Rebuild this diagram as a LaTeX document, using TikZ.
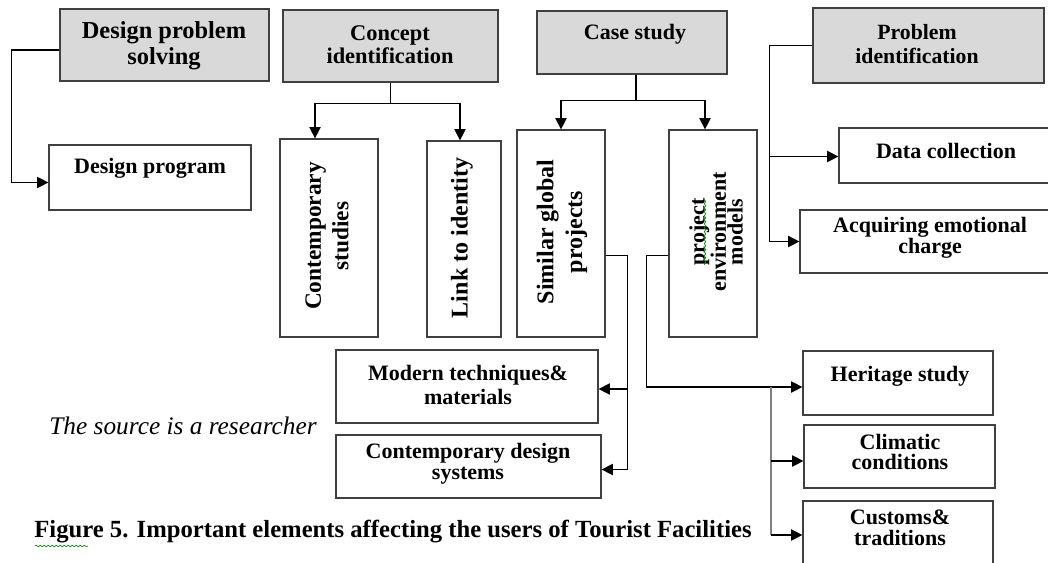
\documentclass[tikz,border=0pt]{standalone}
\usepackage{fontspec}
\setmainfont{Liberation Serif}
\usetikzlibrary{arrows.meta,calc,decorations.pathmorphing}
\newcommand\mkbox[6]{\node[#6,minimum width={(#4-#2)*0.75pt},minimum height={(#5-#3)*0.75pt}] (#1) at ({(#2+#4)/2},{(#3+#5)/2}) {};}
\begin{document}
\begin{tikzpicture}[x=0.75pt,y=-0.75pt,
  box/.style={draw=black!75,line width=0.9pt,fill=white,inner sep=0pt},
  head/.style={box,fill=black!15},
  conn/.style={draw=black,line width=0.8pt},
  grayconn/.style={draw=black!50,line width=1pt},
  arr/.style={conn,-{Triangle[length=8.5pt,width=8.5pt]}},
  lbl/.style={font=\bfseries\fontsize{16.5}{15.5}\selectfont,align=center,inner sep=0pt},
  vlbl/.style={font=\bfseries\fontsize{17.5}{20.5}\selectfont,align=center,inner sep=0pt,rotate=90},
  squig/.style={draw=green!55!black,line width=0.5pt,decorate,decoration={snake,amplitude=0.6pt,segment length=3pt}},
]
\useasboundingbox (0,0) rectangle (1048,563);
% boxes
\mkbox{dps}{60}{9}{269}{81}{head}
\mkbox{ci}{283}{10}{498}{82}{head}
\mkbox{case}{537}{11}{727}{74}{head}
\mkbox{pi}{813}{8}{1044}{83}{head}
\mkbox{dp}{49}{145}{251}{210}{box}
\mkbox{cs}{280}{139}{378}{337}{box}
\mkbox{lk}{427}{141}{501}{337}{box}
\mkbox{sg}{517}{130}{605}{337}{box}
\mkbox{pe}{669}{130}{757}{337}{box}
\mkbox{dc}{839}{128}{1054}{183}{box}
\mkbox{ac}{800}{210}{1054}{273}{box}
\mkbox{mt}{336}{350}{598}{423}{box}
\mkbox{cds}{336}{435}{601}{498}{box}
\mkbox{hs}{803}{351}{993}{415}{box}
\mkbox{cc}{804}{425}{995}{488}{box}
\mkbox{ct}{803}{501}{993}{572}{box}
% texts
\node[lbl,font=\bfseries\fontsize{18.3}{19.5}\selectfont] (tdps) at (164,46) {Design problem\\solving};
\node[lbl,font=\bfseries\fontsize{16.8}{17.5}\selectfont] (tci) at (390,45) {Concept\\identification};
\node[lbl] (tcase) at (635,34) {Case study};
\node[lbl,font=\bfseries\fontsize{16.3}{18.5}\selectfont] (tpi) at (917,44) {Problem\\identification};
\node[lbl] (tdp) at (150,168) {Design program};
\node[lbl] (tdc) at (946,151) {Data collection};
\node[lbl] (tac) at (930,238) {Acquiring emotional\\charge};
\node[lbl,font=\bfseries\fontsize{16.5}{18.5}\selectfont] (tmt) at (468,385) {Modern techniques\&\\materials};
\node[lbl] (tcds) at (468,464) {Contemporary design\\systems};
\node[lbl] (ths) at (900,376) {Heritage study};
\node[lbl] (tcc) at (900,452) {Climatic\\conditions};
\node[lbl] (tct) at (900,528) {Customs\&\\traditions};
\node[vlbl] (tcs) at (327,236) {Contemporary\\studies};
\node[vlbl,font=\bfseries\fontsize{18}{20.5}\selectfont] (tlk) at (462,238) {Link to identity};
\node[vlbl,font=\bfseries\fontsize{18}{21.5}\selectfont] (tsg) at (562,232) {Similar global\\projects};
\node[vlbl,font=\bfseries\fontsize{16.5}{12.5}\selectfont] (tpe) at (716,232) {project\\environment\\models};
\node[font=\itshape\fontsize{19}{22}\selectfont,inner sep=0pt] (src) at (183,426) {The source is a researcher};
\node[font=\bfseries\fontsize{18.5}{22}\selectfont,inner sep=0pt] (cap) at (393,532) {Figure 5. Important elements affecting the users of Tourist Facilities};
% spell-check squiggles
\draw[squig] (35,546) -- (88,546);
\draw[squig] (705,265) -- (705,200);
% connectors
\draw[arr] ($(dps.west)+(0,5)$) -- ++(-48,0) |- ($(dp.west)+(0,5)$);
\draw[arr] (ci.south) -- ++(0,21) -| ($(cs.north)+(-14,0)$);
\draw[arr] (ci.south) ++(0,21) -| ($(lk.north)+(-4,0)$);
\draw[arr] ($(case.south)+(4,0)$) -- ++(0,26) -| (sg.north);
\draw[arr] ($(case.south)+(4,0)$) ++(0,26) -| ($(pe.north)+(-8,0)$);
\draw[arr] (pi.west) -- ++(-43,0) |- ($(dc.west)+(0,1)$);
\draw[arr] (pi.west) ++(-43,0) |- (ac.west);
\coordinate (sgj) at (627,389);
\draw[arr] ($(sg.east)+(0,22)$) -| ($(cds.east)+(26,3)$) -- ($(cds.east)+(0,3)$);
\draw[arr] (sgj) -- ($(mt.east)+(0,2.5)$);
\coordinate (hsj) at (771,387);
\draw[arr] ($(pe.west)+(0,22)$) -| ($(hs.west)+(-156,4)$) -- ($(hs.west)+(0,4)$);
\draw[grayconn] (hsj) -- (771,535);
\draw[arr] (771,461) -- ($(cc.west)+(0,4.5)$);
\draw[arr] (771,535) -- (ct.west |- 0,535);
\end{tikzpicture}
\end{document}
